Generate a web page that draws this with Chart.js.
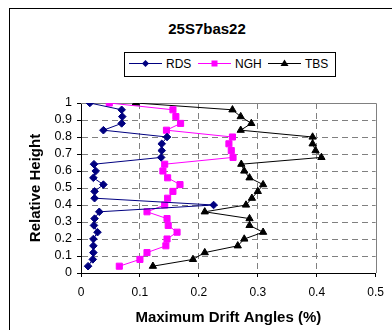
<!DOCTYPE html>
<html>
<head>
<meta charset="utf-8">
<script src="https://cdn.jsdelivr.net/npm/chart.js@4/dist/chart.umd.min.js"></script>
<style>
  html, body { margin: 0; padding: 0; background: #fff; overflow: hidden; }
  body { width: 392px; height: 330px; position: relative; font-family: "Liberation Sans", Arial, sans-serif; }
  #frame { position: absolute; left: 9px; top: 8px; width: 420px; height: 360px; border: 1px solid #000; box-sizing: border-box; }
  #title { position: absolute; left: 9px; width: 396px; top: 20px; line-height: 18px; text-align: center; font-weight: bold; font-size: 15px; }
  #legend { position: absolute; left: 124px; top: 52px; width: 212px; height: 25px; border: 1px solid #000; box-sizing: border-box; }
  .item { position: absolute; top: 0; height: 23px; }
  .item svg { position: absolute; top: 6px; left: 0; }
  .item span { position: absolute; top: 4px; font-size: 12px; line-height: 14px; white-space: nowrap; }
  #wrap { position: absolute; left: 0; top: 0; width: 392px; height: 330px; }
</style>
</head>
<body>
<div id="frame"></div>
<div id="title">25S7bas22</div>
<div id="legend"></div>
<div id="wrap"><canvas id="drift" width="392" height="330"></canvas></div>
<script>
// storey levels, top down (25 storeys)
const heights = [1.00, 0.96, 0.92, 0.88, 0.84, 0.80, 0.76, 0.72, 0.68, 0.64, 0.60, 0.56, 0.52,
                 0.48, 0.44, 0.40, 0.36, 0.32, 0.28, 0.24, 0.20, 0.16, 0.12, 0.08, 0.04];

const rds = [0.015, 0.069, 0.070, 0.069, 0.038, 0.146, 0.137, 0.137, 0.136, 0.022, 0.025, 0.021, 0.038,
             0.023, 0.023, 0.225, 0.031, 0.023, 0.022, 0.028, 0.021, 0.021, 0.021, 0.020, 0.012];
const ngh = [0.048, 0.156, 0.161, 0.169, 0.145, 0.257, 0.251, 0.255, 0.258, 0.142, 0.139, 0.147, 0.168,
             0.156, 0.147, 0.142, 0.112, 0.146, 0.148, 0.163, 0.146, 0.144, 0.112, 0.100, 0.065];
const tbs = [0.093, 0.257, 0.271, 0.289, 0.271, 0.393, 0.393, 0.398, 0.408, 0.272, 0.277, 0.286, 0.309,
             0.300, 0.290, 0.280, 0.210, 0.286, 0.286, 0.309, 0.277, 0.266, 0.210, 0.190, 0.122];

const seriesNames = ['RDS', 'NGH', 'TBS'];

const GRID = '#808080';

function pairs(xs){ return xs.map((x, i) => ({ x: x, y: heights[i] })); }

function near(a, b){ return Math.abs(a - b) < 1e-6; }

// "0", "0.1", ... "1" like the spreadsheet axis
function tickText(v){ return String(Math.round(v * 10) / 10); }

// top and right edges of the plot area, solid
const plotFrame = {
  id: 'plotFrame',
  beforeDatasetsDraw(chart){
    const { ctx, chartArea: a } = chart;
    ctx.save();
    ctx.strokeStyle = GRID;
    ctx.lineWidth = 1;
    ctx.beginPath();
    ctx.moveTo(Math.round(a.left), Math.round(a.top) + 0.5);
    ctx.lineTo(Math.round(a.right) + 0.5, Math.round(a.top) + 0.5);
    ctx.lineTo(Math.round(a.right) + 0.5, Math.round(a.bottom));
    ctx.stroke();
    ctx.restore();
  }
};

const styles = [
  { color: '#000080', pointStyle: 'rectRot', radius: 3.8 },
  { color: '#ff00ff', pointStyle: 'rect', radius: 4.3 },
  { color: '#000000', pointStyle: 'triangle', radius: 4.2 }
];

const datasets = [rds, ngh, tbs].map((xs, i) => ({
  label: seriesNames[i],
  data: pairs(xs),
  showLine: true,
  borderColor: styles[i].color,
  backgroundColor: styles[i].color,
  borderWidth: 1,
  pointStyle: styles[i].pointStyle,
  pointRadius: styles[i].radius,
  pointBorderWidth: 1,
  pointBorderColor: styles[i].color,
  pointBackgroundColor: styles[i].color
}));

Chart.defaults.font.family = '"Liberation Sans", Arial, sans-serif';
Chart.defaults.font.size = 12;
Chart.defaults.color = '#000';

new Chart(document.getElementById('drift').getContext('2d'), {
  type: 'scatter',
  data: { datasets: datasets },
  options: {
    responsive: false,
    animation: false,
    layout: { padding: { top: 103, right: 11, left: 9, bottom: 0 } },
    plugins: { legend: { display: false }, tooltip: { enabled: false }, title: { display: false } },
    scales: {
      x: {
        type: 'linear', min: 0, max: 0.5,
        ticks: { stepSize: 0.1, padding: 8, autoSkip: false, maxRotation: 0, callback: tickText, font: { size: 12 } },
        grid: {
          color: c => (near(c.tick.value, 0) || near(c.tick.value, 0.5)) ? 'rgba(0,0,0,0)' : GRID,
          tickColor: '#000', tickLength: 4, lineWidth: 1
        },
        border: { color: '#000', width: 1, dash: [6, 4] },
        title: { display: true, text: 'Maximum Drift Angles (%)', font: { size: 15, weight: 'bold' }, padding: { top: 0, bottom: 3 } },
        afterFit: s => { s.height = 57; }
      },
      y: {
        type: 'linear', min: 0, max: 1,
        ticks: { stepSize: 0.1, padding: 5, autoSkip: false, callback: tickText, font: { size: 12.5 } },
        grid: {
          color: c => (near(c.tick.value, 0) || near(c.tick.value, 1)) ? 'rgba(0,0,0,0)' : GRID,
          tickColor: '#000', tickLength: 4, lineWidth: 1
        },
        border: { color: '#000', width: 1, dash: [6, 4] },
        title: { display: true, text: 'Relative Height', font: { size: 15, weight: 'bold' }, padding: { top: 18, bottom: 0 } },
        afterFit: s => { s.width = 72; }
      }
    }
  },
  plugins: [plotFrame]
});

// legend: line sample with marker, then name
function markerSvg(i){
  const c = styles[i].color;
  let shape;
  if(i === 0) shape = `<polygon points="16.5,7 20,10.5 16.5,14 13,10.5" fill="${c}"/>`;
  else if(i === 1) shape = `<rect x="13.5" y="7.5" width="6" height="6" fill="${c}"/>`;
  else shape = `<polygon points="16.5,6.5 20.5,13 12.5,13" fill="${c}"/>`;
  return `<svg width="33" height="21" viewBox="0 0 33 21" style="top:0"><line x1="0" y1="10.5" x2="33" y2="10.5" stroke="${c}" stroke-width="1"/>${shape}</svg>`;
}
const legendLeft = [4, 73, 143];
document.getElementById('legend').innerHTML = seriesNames.map((n, i) =>
  `<div class="item" style="left:${legendLeft[i]}px">${markerSvg(i)}<span style="left:37px">${n}</span></div>`
).join('');
</script>
</body>
</html>
